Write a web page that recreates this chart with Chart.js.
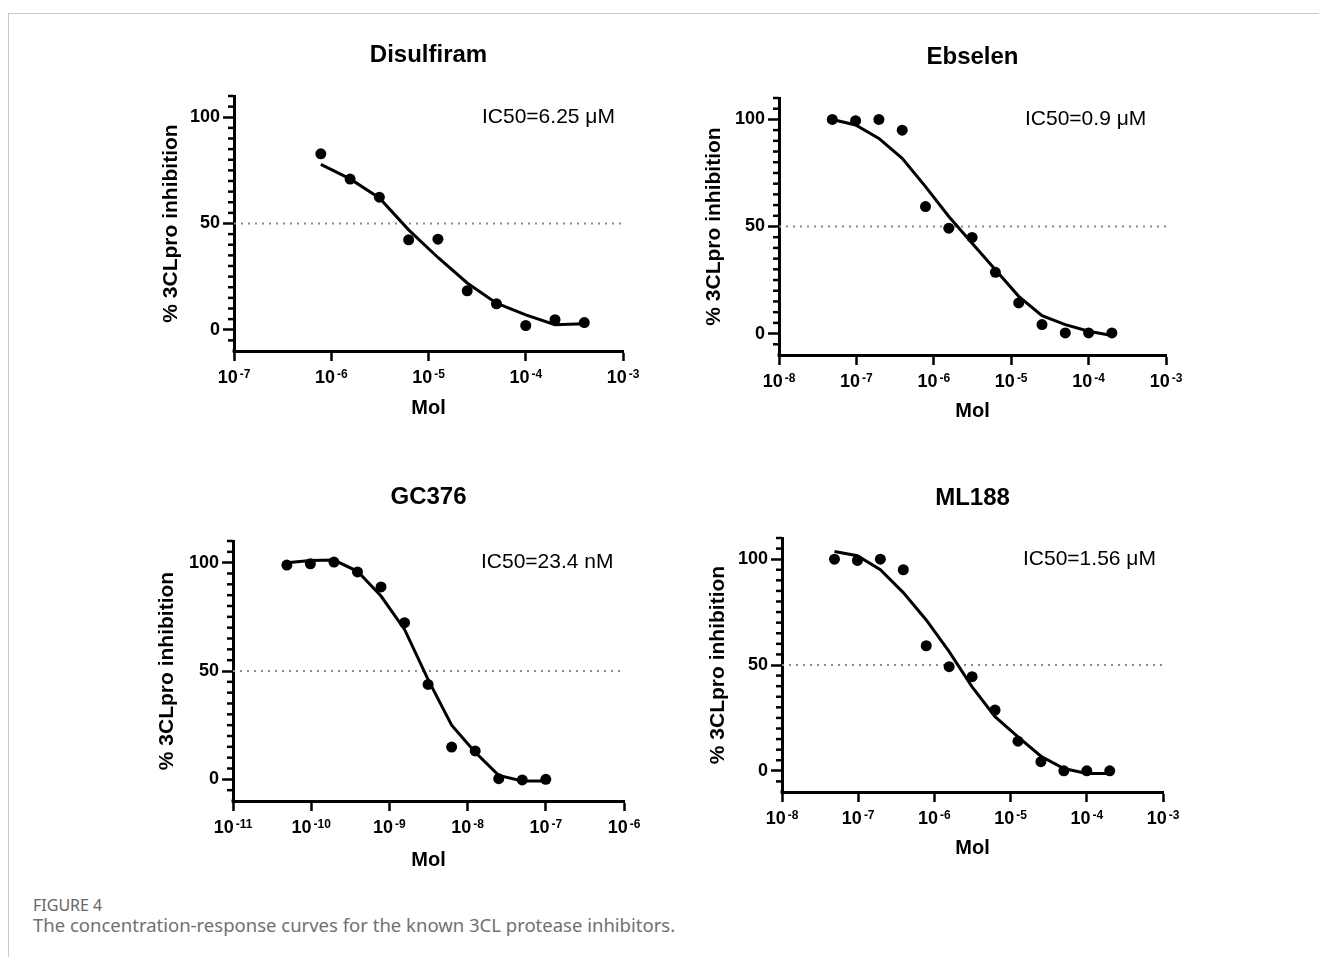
<!DOCTYPE html>
<html>
<head>
<meta charset="utf-8">
<title>Figure 4 - 3CL protease inhibitors</title>
<script src="https://cdn.jsdelivr.net/npm/chart.js@4.4.1/dist/chart.umd.min.js"></script>
<style>
  html, body { margin: 0; padding: 0; background: #fff; }
  #page { position: relative; width: 1319px; height: 957px; overflow: hidden; }
  #frame { position: absolute; left: 8px; top: 13px; right: 0; bottom: 0;
           border-left: 1px solid #c8c8c8; border-top: 1px solid #c8c8c8; }
  canvas { position: absolute; }
  .caption { position: absolute; left: 33px; font-family: "Noto Sans", "Open Sans", sans-serif;
             color: #707070; white-space: nowrap; }
</style>
</head>
<body>
<div id="page">
  <div id="frame"></div>
  <canvas id="c1"></canvas>
  <canvas id="c2"></canvas>
  <canvas id="c3"></canvas>
  <canvas id="c4"></canvas>
  <div class="caption" style="top:894px; font-size:16px; color:#666">FIGURE 4</div>
  <div class="caption" style="top:912px; font-size:18.5px">The concentration-response curves for the known 3CL protease inhibitors.</div>
</div>
<script>
const FONT = 'Arial, "Liberation Sans", Helvetica, sans-serif';

// Disulfiram
const dsfConc  = [7.8125e-7, 1.5625e-6, 3.125e-6, 6.25e-6, 1.25e-5, 2.5e-5, 5e-5, 1e-4, 2e-4, 4e-4];
const dsfInhib = [82.8, 70.9, 62.4, 42.3, 42.6, 18.3, 12.2, 2.0, 4.7, 3.4];
const dsfFit   = [77.8, 71.0, 62.0, 47.0, 34.0, 22.0, 12.5, 7.0, 2.4, 2.8];
const dsfTicks = [1e-7, 1e-6, 1e-5, 1e-4, 1e-3];
const dsfIC50  = 'IC50=6.25 μM';

// Ebselen
const ebsConc  = [4.8828e-8, 9.7656e-8, 1.9531e-7, 3.9063e-7, 7.8125e-7, 1.5625e-6, 3.125e-6,
                  6.25e-6, 1.25e-5, 2.5e-5, 5e-5, 1e-4, 2e-4];
const ebsInhib = [100, 99.4, 100, 95, 59.3, 49.2, 44.9, 28.6, 14.3, 4.2, 0.3, 0.3, 0.3];
const ebsFit   = [100, 97.4, 91.1, 81.8, 68.6, 54.7, 42.2, 29.8, 17.4, 8.4, 4.2, 1.1, -0.9];
const ebsTicks = [1e-8, 1e-7, 1e-6, 1e-5, 1e-4, 1e-3];
const ebsIC50  = 'IC50=0.9 μM';

// GC376
const gcConc  = [4.8828e-11, 9.7656e-11, 1.9531e-10, 3.9063e-10, 7.8125e-10, 1.5625e-9,
                 3.125e-9, 6.25e-9, 1.25e-8, 2.5e-8, 5e-8, 1e-7];
const gcInhib = [98.9, 99.5, 100.3, 95.7, 88.8, 72.3, 43.8, 14.9, 13.1, 0.3, -0.3, 0];
const gcFit   = [100.0, 101.0, 101.2, 96.0, 84.6, 69.2, 46.0, 25.0, 12.5, 1.8, -0.8, -0.8];
const gcTicks = [1e-11, 1e-10, 1e-9, 1e-8, 1e-7, 1e-6];
const gcIC50  = 'IC50=23.4 nM';

// ML188
const mlConc  = ebsConc;
const mlInhib = [100, 99.4, 100, 95, 59.1, 49.2, 44.5, 28.7, 14.0, 4.3, 0, 0, 0];
const mlFit   = [103.6, 101.6, 95.0, 84.2, 71.3, 56.3, 39.7, 25.6, 16.1, 6.9, 1.1, -1.3, -1.3];
const mlTicks = [1e-8, 1e-7, 1e-6, 1e-5, 1e-4, 1e-3];
const mlIC50  = 'IC50=1.56 μM';

const yMin = -10, yMax = 110, yStep = 5, yMajor = 50;
const halfLine = 50;
const yLabel = '% 3CLpro inhibition';
const xLabel = 'Mol';

// plot boxes in page pixels, plus gaps for titles
const panels = [
  { id: 'c1', title: 'Disulfiram', conc: dsfConc, inhib: dsfInhib, fit: dsfFit, xTicks: dsfTicks, note: dsfIC50,
    box: { left: 234, top: 96, width: 389, height: 255 }, titleGap: 41, yTitleGap: 63, molGap: 57, noteX: 248 },
  { id: 'c2', title: 'Ebselen', conc: ebsConc, inhib: ebsInhib, fit: ebsFit, xTicks: ebsTicks, note: ebsIC50,
    box: { left: 779, top: 98, width: 387, height: 257 }, titleGap: 41, yTitleGap: 65, molGap: 56, noteX: 246 },
  { id: 'c3', title: 'GC376', conc: gcConc, inhib: gcInhib, fit: gcFit, xTicks: gcTicks, note: gcIC50,
    box: { left: 233, top: 541, width: 391, height: 260 }, titleGap: 44, yTitleGap: 66, molGap: 59, noteX: 248 },
  { id: 'c4', title: 'ML188', conc: mlConc, inhib: mlInhib, fit: mlFit, xTicks: mlTicks, note: mlIC50,
    box: { left: 782, top: 538, width: 381, height: 254 }, titleGap: 40, yTitleGap: 64, molGap: 56, noteX: 241 }
];

const PAD_L = 100, PAD_T = 75, PAD_R = 45, PAD_B = 75;

// minor y ticks, superscript x labels, IC50 note
const axisExtras = {
  id: 'axisExtras',
  afterDraw(chart, args, opts) {
    const ctx = chart.ctx;
    const xs = chart.scales.x, ys = chart.scales.y;
    const area = chart.chartArea;
    ctx.save();
    ctx.strokeStyle = '#000';
    ctx.fillStyle = '#000';
    ctx.lineWidth = 2.5;
    ys.ticks.forEach(t => {
      if (t.value % yMajor === 0 || t.value === yMin) return;
      const py = ys.getPixelForValue(t.value);
      ctx.beginPath();
      ctx.moveTo(area.left, py);
      ctx.lineTo(area.left - 6, py);
      ctx.stroke();
    });
    // fill the axis corner
    ctx.fillRect(area.left - 1.5, area.bottom - 1.5, 3, 3);

    ctx.textBaseline = 'alphabetic';
    ctx.textAlign = 'left';
    xs.ticks.forEach(t => {
      const px = xs.getPixelForValue(t.value);
      const exp = String(Math.round(Math.log10(t.value)));
      ctx.font = 'bold 18px ' + FONT;
      const wb = ctx.measureText('10').width;
      ctx.font = 'bold 12px ' + FONT;
      const we = ctx.measureText(exp).width;
      const x0 = px - (wb + 2 + we) / 2;
      ctx.font = 'bold 18px ' + FONT;
      ctx.fillText('10', x0, area.bottom + 32);
      ctx.font = 'bold 12px ' + FONT;
      ctx.fillText(exp, x0 + wb + 2, area.bottom + 27);
    });

    ctx.font = '21px ' + FONT;
    ctx.textBaseline = 'middle';
    ctx.fillText(opts.note, area.left + opts.noteX, ys.getPixelForValue(100));
    ctx.restore();
  }
};

function makeChart(p) {
  const canvas = document.getElementById(p.id);
  canvas.width = p.box.width + PAD_L + PAD_R;
  canvas.height = p.box.height + PAD_T + PAD_B;
  canvas.style.left = (p.box.left - PAD_L) + 'px';
  canvas.style.top = (p.box.top - PAD_T) + 'px';

  const points = p.conc.map((c, i) => ({ x: c, y: p.inhib[i] }));
  const curve = p.conc.map((c, i) => ({ x: c, y: p.fit[i] }));
  const xMin = p.xTicks[0], xMax = p.xTicks[p.xTicks.length - 1];
  const dotted = [{ x: xMin, y: halfLine }, { x: xMax, y: halfLine }];
  const lh = 24 * 1.2;

  return new Chart(canvas, {
    type: 'scatter',
    data: {
      datasets: [
        { data: points, pointRadius: 5.5, pointBackgroundColor: '#000', pointBorderWidth: 0, showLine: false },
        { data: curve, showLine: true, borderColor: '#000', borderWidth: 3, pointRadius: 0, tension: 0 },
        { data: dotted, showLine: true, borderColor: '#8c8c8c', borderWidth: 2, borderDash: [2, 5], pointRadius: 0 }
      ]
    },
    options: {
      responsive: false,
      animation: false,
      layout: { padding: { left: 0, top: 0, right: PAD_R, bottom: 0 } },
      plugins: {
        legend: { display: false },
        tooltip: { enabled: false },
        title: {
          display: true, text: p.title, color: '#000', fullSize: false,
          font: { family: FONT, size: 24, weight: 'bold', lineHeight: 1.2 },
          padding: { top: PAD_T - p.titleGap - lh / 2, bottom: p.titleGap - lh / 2 }
        },
        axisExtras: { note: p.note, noteX: p.noteX }
      },
      scales: {
        x: {
          type: 'logarithmic', min: xMin, max: xMax,
          border: { color: '#000', width: 3 },
          grid: { drawOnChartArea: false, drawTicks: true, tickLength: 10, tickWidth: 2.5, tickColor: '#000' },
          ticks: { display: false },
          afterBuildTicks: s => { s.ticks = p.xTicks.map(v => ({ value: v })); },
          afterFit: s => { s.height = PAD_B; },
          title: {
            display: true, text: xLabel, color: '#000',
            font: { family: FONT, size: 20, weight: 'bold', lineHeight: 1.2 },
            padding: { top: 0, bottom: PAD_B - 12 - p.molGap }
          }
        },
        y: {
          min: yMin, max: yMax,
          border: { color: '#000', width: 3 },
          grid: {
            drawOnChartArea: false, drawTicks: true, tickLength: 11, tickWidth: 2.5,
            tickColor: c => (c.tick && c.tick.value % yMajor === 0) ? '#000' : 'rgba(0,0,0,0)'
          },
          ticks: {
            stepSize: yStep, autoSkip: false, color: '#000', padding: 3,
            font: { family: FONT, size: 18, weight: 'bold' },
            callback: v => (v % yMajor === 0 ? String(v) : '')
          },
          afterFit: s => { s.width = PAD_L; },
          title: {
            display: true, text: yLabel, color: '#000',
            font: { family: FONT, size: 21, weight: 'bold', lineHeight: 1.2 },
            padding: { top: PAD_L - p.yTitleGap - 12.6, bottom: 0 }
          }
        }
      }
    },
    plugins: [axisExtras]
  });
}

panels.forEach(makeChart);
</script>
</body>
</html>
